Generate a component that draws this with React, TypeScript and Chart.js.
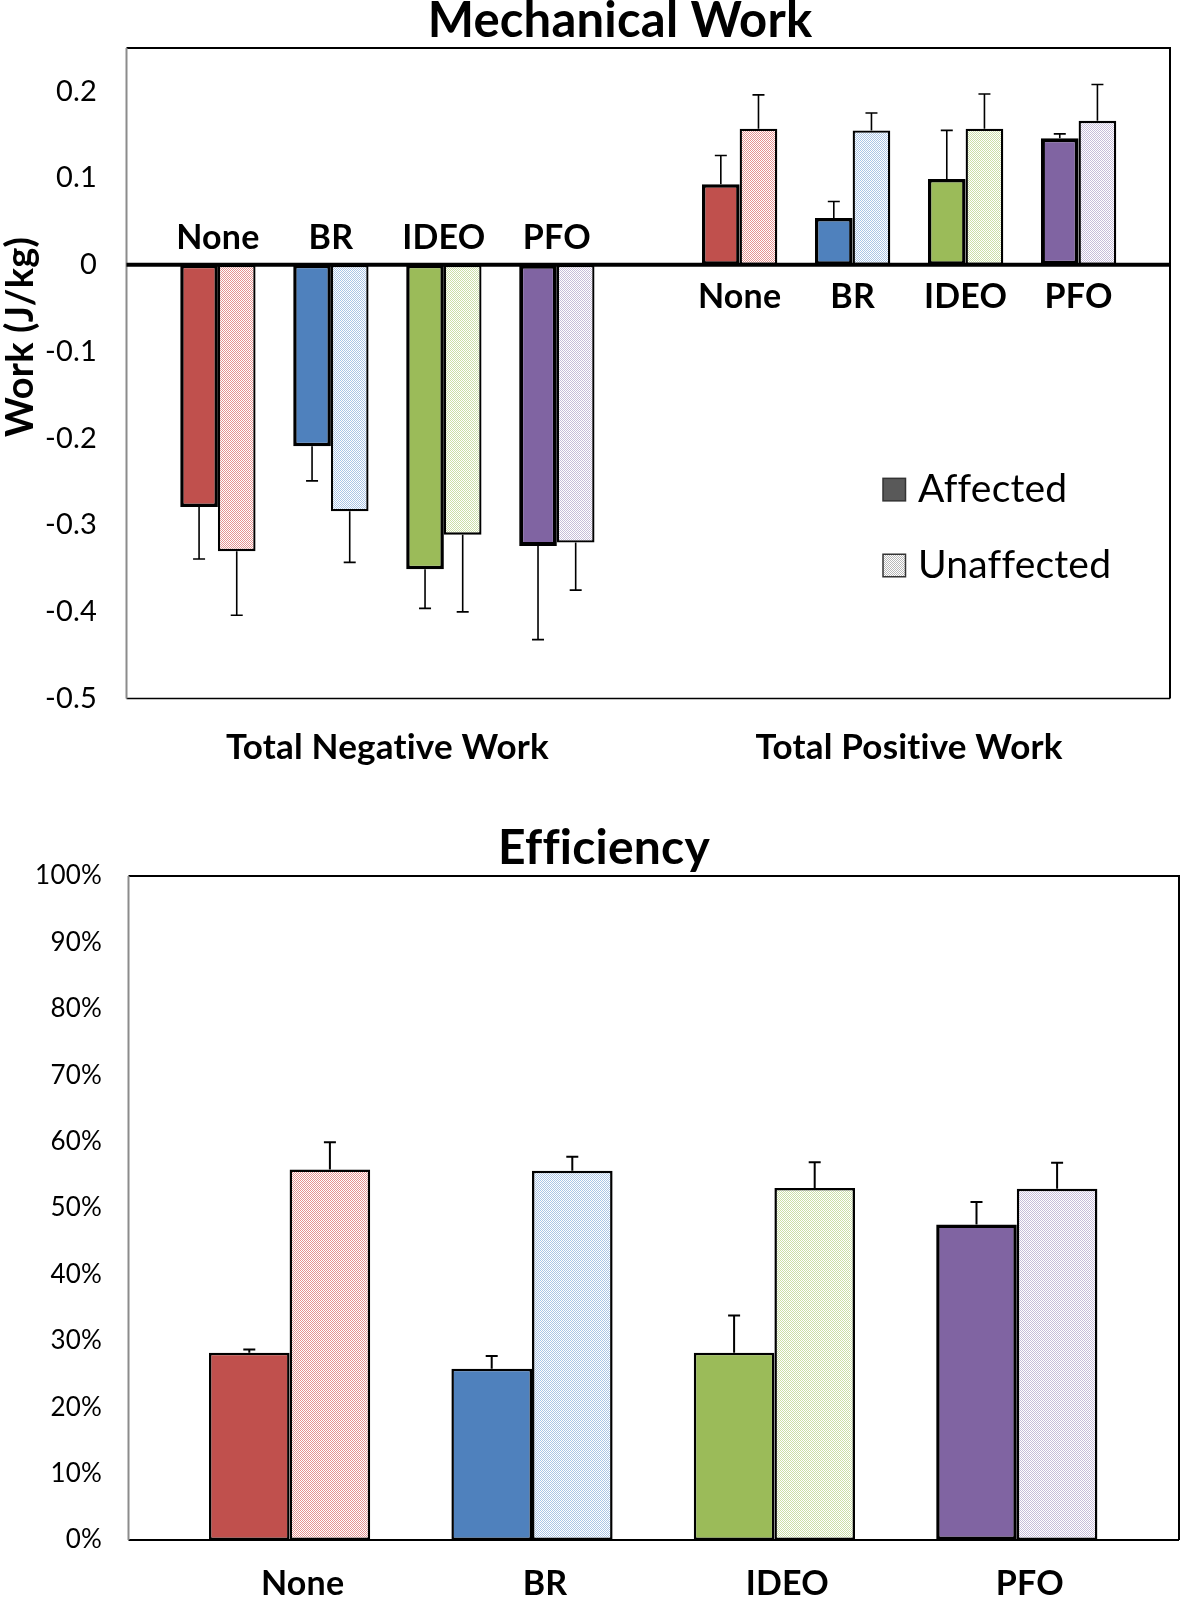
import React, { useEffect, useRef } from 'react';
import { Chart, registerables } from 'chart.js';

Chart.register(...registerables);

const FONT = 'Lato';

// ---------------- data ----------------
const groups = ['None', 'BR', 'IDEO', 'PFO'];
const seriesNames = ['Affected', 'Unaffected'];

const workCategories = ['Total Negative Work', 'Total Positive Work'];
const workTickValues = [-0.5, -0.4, -0.3, -0.2, -0.1, 0, 0.1, 0.2];
const workMin = -0.5;
const workMax = 0.25;

const negAffected = [-0.279, -0.209, -0.351, -0.324];
const negAffectedErr = [0.06, 0.04, 0.045, 0.108];
const negUnaffected = [-0.33, -0.284, -0.311, -0.32];
const negUnaffectedErr = [0.074, 0.059, 0.089, 0.055];
const posAffected = [0.093, 0.054, 0.099, 0.146];
const posAffectedErr = [0.033, 0.019, 0.056, 0.005];
const posUnaffected = [0.157, 0.155, 0.157, 0.166];
const posUnaffectedErr = [0.039, 0.02, 0.04, 0.042];

const effTickValues = [0, 10, 20, 30, 40, 50, 60, 70, 80, 90, 100];
const effMin = 0;
const effMax = 100;
const effAffected = [28.2, 25.8, 28.2, 47.5];
const effAffectedErr = [0.5, 1.9, 5.6, 3.4];
const effUnaffected = [55.8, 55.6, 53.0, 52.9];
const effUnaffectedErr = [4.1, 2.1, 3.9, 3.9];

// ---------------- styles ----------------
const solidColors = ['#C0504D', '#4F81BD', '#9BBB59', '#8064A2'];
const tintColors = ['#E59391', '#ABC5E5', '#CBDFA7', '#C7BDD9'];
const workAffectedBorders = [3.5, 3.5, 3.5, 4];
const effAffectedBorders = [2.5, 2.5, 2.5, 3.5];
const legendSolid = '#595959';
const legendTint = '#B8B8B8';

function checker(ctx: CanvasRenderingContext2D, color: string): any {
  const c = document.createElement('canvas');
  c.width = 2;
  c.height = 2;
  const g = c.getContext('2d');
  if (!g) return color;
  g.fillStyle = '#ffffff';
  g.fillRect(0, 0, 2, 2);
  g.fillStyle = color;
  g.fillRect(0, 0, 1, 1);
  g.fillRect(1, 1, 1, 1);
  return ctx.createPattern(c, 'repeat') || color;
}

// ---------------- plugins ----------------
const framePlugin = {
  id: 'frame',
  beforeDraw(chart: any) {
    const ctx: any = chart.ctx;
    ctx.textRendering = 'optimizeSpeed';
    ctx.letterSpacing = '0.2px';
  },
  beforeDatasetsDraw(chart: any, _a: any, o: any) {
    const { ctx, chartArea: ca } = chart;
    const left = o.left ?? ca.left;
    const right = o.right ?? ca.right;
    ctx.save();
    ctx.lineCap = 'butt';
    ctx.strokeStyle = '#000';
    ctx.lineWidth = 2;
    ctx.beginPath();
    ctx.moveTo(left, ca.top);
    ctx.lineTo(right, ca.top);
    ctx.lineTo(right, ca.bottom);
    ctx.stroke();
    ctx.lineWidth = o.bottomWidth ?? 2;
    ctx.beginPath();
    ctx.moveTo(left, ca.bottom);
    ctx.lineTo(right, ca.bottom);
    ctx.stroke();
    ctx.strokeStyle = '#8c8c8c';
    ctx.lineWidth = 2;
    ctx.beginPath();
    ctx.moveTo(left, ca.top);
    ctx.lineTo(left, ca.bottom);
    ctx.stroke();
    ctx.restore();
  },
  afterDatasetsDraw(chart: any, _a: any, o: any) {
    const { ctx, chartArea: ca } = chart;
    const left = o.left ?? ca.left;
    const right = o.right ?? ca.right;
    ctx.save();
    if (o.zeroLine) {
      const y0 = chart.scales.y.getPixelForValue(0);
      ctx.strokeStyle = '#000';
      ctx.lineWidth = o.zeroLine;
      ctx.beginPath();
      ctx.moveTo(left, y0);
      ctx.lineTo(right, y0);
      ctx.stroke();
    }
    ctx.fillStyle = '#000';
    (o.texts || []).forEach((t: any) => {
      ctx.save();
      ctx.font = `${t.weight || 'normal'} ${t.size}px ${FONT}`;
      ctx.textAlign = 'center';
      ctx.textBaseline = 'middle';
      ctx.translate(t.x, t.y);
      if (t.rotate) ctx.rotate(t.rotate);
      ctx.fillText(t.text, 0, 0);
      ctx.restore();
    });
    ctx.restore();
  },
};

const errorBarPlugin = {
  id: 'errorBars',
  afterDatasetsDraw(chart: any, _a: any, o: any) {
    const { ctx } = chart;
    const ys = chart.scales.y;
    chart.data.datasets.forEach((ds: any, di: number) => {
      if (!ds.errors) return;
      const meta = chart.getDatasetMeta(di);
      meta.data.forEach((el: any, i: number) => {
        const v = ds.data[i];
        const e = ds.errors[i];
        if (v == null || e == null) return;
        const end = v < 0 ? v - e : v + e;
        const p0 = ys.getPixelForValue(v);
        const p1 = ys.getPixelForValue(end);
        ctx.save();
        ctx.strokeStyle = '#000';
        ctx.lineWidth = o.lineWidth;
        ctx.beginPath();
        ctx.moveTo(el.x, p0);
        ctx.lineTo(el.x, p1);
        ctx.moveTo(el.x - o.cap / 2, p1);
        ctx.lineTo(el.x + o.cap / 2, p1);
        ctx.stroke();
        ctx.restore();
      });
    });
  },
};

const groupLabelPlugin = {
  id: 'groupLabels',
  afterDatasetsDraw(chart: any, _a: any, o: any) {
    if (!o.enabled) return;
    const { ctx } = chart;
    const y0 = chart.scales.y.getPixelForValue(0);
    ctx.save();
    ctx.fillStyle = '#000';
    ctx.font = `bold ${o.size}px ${FONT}`;
    ctx.textAlign = 'center';
    ctx.textBaseline = 'middle';
    groups.forEach((g, gi) => {
      const idx = chart.data.datasets
        .map((d: any, k: number) => (d.group === gi ? k : -1))
        .filter((k: number) => k >= 0);
      const a = chart.getDatasetMeta(idx[0]).data;
      const u = chart.getDatasetMeta(idx[1]).data;
      chart.data.labels.forEach((_l: any, ci: number) => {
        const x = (a[ci].x + u[ci].x) / 2;
        const v = chart.data.datasets[idx[0]].data[ci];
        const y = v < 0 ? y0 - o.above : y0 + o.below;
        ctx.fillText(g, x, y);
      });
    });
    ctx.restore();
  },
};

const legendPlugin = {
  id: 'boxLegend',
  afterDatasetsDraw(chart: any, _a: any, o: any) {
    if (!o.enabled) return;
    const { ctx } = chart;
    const fills = [legendSolid, checker(ctx, legendTint)];
    ctx.save();
    seriesNames.forEach((name, i) => {
      const cy = o.ys[i];
      ctx.fillStyle = fills[i];
      ctx.fillRect(o.x, cy - o.box / 2, o.box, o.box);
      ctx.strokeStyle = '#333';
      ctx.lineWidth = 1.5;
      ctx.strokeRect(o.x, cy - o.box / 2, o.box, o.box);
      ctx.fillStyle = '#000';
      ctx.font = `normal ${o.size}px ${FONT}`;
      ctx.textAlign = 'left';
      ctx.textBaseline = 'middle';
      ctx.fillText(name, o.textX, cy);
    });
    ctx.restore();
  },
};

function fixWidth(w: number) {
  return (s: any) => {
    s.width = w;
    s.paddingTop = 0;
    s.paddingBottom = 0;
  };
}
function fixHeight(h: number) {
  return (s: any) => {
    s.height = h;
    s.paddingLeft = 0;
    s.paddingRight = 0;
  };
}

// ---------------- configs ----------------
function workConfig(ctx: CanvasRenderingContext2D): any {
  const datasets: any[] = [];
  groups.forEach((g, gi) => {
    datasets.push({
      label: `${g} ${seriesNames[0]}`,
      data: [negAffected[gi], posAffected[gi]],
      errors: [negAffectedErr[gi], posAffectedErr[gi]],
      backgroundColor: solidColors[gi],
      borderColor: '#000',
      borderWidth: workAffectedBorders[gi],
      group: gi,
    });
    datasets.push({
      label: `${g} ${seriesNames[1]}`,
      data: [negUnaffected[gi], posUnaffected[gi]],
      errors: [negUnaffectedErr[gi], posUnaffectedErr[gi]],
      backgroundColor: checker(ctx, tintColors[gi]),
      borderColor: '#000',
      borderWidth: 2.3,
      group: gi,
    });
    if (gi < groups.length - 1) {
      datasets.push({ label: '', data: [null, null], group: -1 });
    }
  });

  return {
    type: 'bar',
    data: { labels: workCategories, datasets },
    options: {
      responsive: false,
      animation: false,
      devicePixelRatio: 1,
      events: [],
      layout: { autoPadding: false, padding: { left: 0, right: 11, top: 48, bottom: 0 } },
      datasets: { bar: { categoryPercentage: 0.794, barPercentage: 1, borderSkipped: false } },
      scales: {
        x: {
          type: 'category',
          grid: { display: false, drawTicks: false, tickLength: 0 },
          border: { display: false },
          ticks: {
            color: '#000',
            font: { family: FONT, size: 35, weight: 'bold' },
            padding: 28,
            maxRotation: 0,
            autoSkip: false,
          },
          afterFit: fixHeight(81.4),
        },
        y: {
          type: 'linear',
          min: workMin,
          max: workMax,
          grid: { display: false, drawTicks: false, tickLength: 0 },
          border: { display: false },
          afterBuildTicks: (s: any) => {
            s.ticks = workTickValues.map((v) => ({ value: v }));
          },
          ticks: {
            color: '#000',
            font: { family: FONT, size: 29 },
            padding: 29.5,
            callback: (v: any) => {
              const r = Math.round(Number(v) * 10) / 10;
              return r === 0 ? '0' : String(r);
            },
          },
          afterFit: fixWidth(126.5),
        },
      },
      plugins: {
        legend: { display: false },
        tooltip: { enabled: false },
        title: { display: false },
        frame: {
          zeroLine: 4,
          bottomWidth: 1.5,
          texts: [
            { text: 'Mechanical Work', x: 620, y: 21, size: 49, weight: 'bold' },
            { text: 'Work (J/kg)', x: 21, y: 337, size: 38, weight: 'bold', rotate: -Math.PI / 2 },
          ],
        },
        errorBars: { lineWidth: 1.6, cap: 12 },
        groupLabels: { enabled: true, size: 34, above: 26.6, below: 32.6 },
        boxLegend: { enabled: true, x: 883, ys: [489.6, 565.5], box: 22.5, textX: 918, size: 39 },
      },
    },
    plugins: [framePlugin, errorBarPlugin, groupLabelPlugin, legendPlugin],
  };
}

function effConfig(ctx: CanvasRenderingContext2D): any {
  return {
    type: 'bar',
    data: {
      labels: groups,
      datasets: [
        {
          label: seriesNames[0],
          data: effAffected,
          errors: effAffectedErr,
          backgroundColor: solidColors,
          borderColor: '#000',
          borderWidth: effAffectedBorders,
        },
        {
          label: seriesNames[1],
          data: effUnaffected,
          errors: effUnaffectedErr,
          backgroundColor: tintColors.map((c) => checker(ctx, c)),
          borderColor: '#000',
          borderWidth: 2.5,
        },
      ],
    },
    options: {
      responsive: false,
      animation: false,
      devicePixelRatio: 1,
      events: [],
      layout: { autoPadding: false, padding: { left: 0, right: 43, top: 96, bottom: 0 } },
      datasets: { bar: { categoryPercentage: 0.665, barPercentage: 1, borderSkipped: false } },
      scales: {
        x: {
          type: 'category',
          grid: { display: false, drawTicks: false, tickLength: 0 },
          border: { display: false },
          ticks: {
            color: '#000',
            font: { family: FONT, size: 34, weight: 'bold' },
            padding: 24,
            labelOffset: 13,
            maxRotation: 0,
            autoSkip: false,
          },
          afterFit: fixHeight(59),
        },
        y: {
          type: 'linear',
          min: effMin,
          max: effMax,
          grid: { display: false, drawTicks: false, tickLength: 0 },
          border: { display: false },
          afterBuildTicks: (s: any) => {
            s.ticks = effTickValues.map((v) => ({ value: v }));
          },
          ticks: {
            color: '#000',
            font: { family: FONT, size: 26 },
            padding: 66.4,
            callback: (v: any) => `${Math.round(Number(v))}%`,
          },
          afterFit: fixWidth(168.4),
        },
      },
      plugins: {
        legend: { display: false },
        tooltip: { enabled: false },
        title: { display: false },
        frame: {
          left: 128.5,
          right: 1179,
          bottomWidth: 2,
          texts: [{ text: 'Efficiency', x: 604, y: 69, size: 48, weight: 'bold' }],
        },
        errorBars: { lineWidth: 2, cap: 12 },
        groupLabels: { enabled: false },
        boxLegend: { enabled: false },
      },
    },
    plugins: [framePlugin, errorBarPlugin, groupLabelPlugin, legendPlugin],
  };
}

export default function App() {
  const topRef = useRef<HTMLCanvasElement>(null);
  const botRef = useRef<HTMLCanvasElement>(null);

  useEffect(() => {
    const topCanvas = topRef.current;
    const botCanvas = botRef.current;
    if (!topCanvas || !botCanvas) return;
    const c1 = new Chart(topCanvas, workConfig(topCanvas.getContext('2d') as CanvasRenderingContext2D));
    const c2 = new Chart(botCanvas, effConfig(botCanvas.getContext('2d') as CanvasRenderingContext2D));
    return () => {
      c1.destroy();
      c2.destroy();
    };
  }, []);

  return (
    <div style={{ position: 'absolute', left: 0, top: 0, width: 1181, height: 1599, background: '#fff', overflow: 'hidden' }}>
      <canvas
        ref={topRef}
        width={1181}
        height={780}
        style={{ position: 'absolute', left: 0, top: 0, width: 1181, height: 780 }}
      />
      <canvas
        ref={botRef}
        width={1181}
        height={819}
        style={{ position: 'absolute', left: 0, top: 780, width: 1181, height: 819 }}
      />
    </div>
  );
}
